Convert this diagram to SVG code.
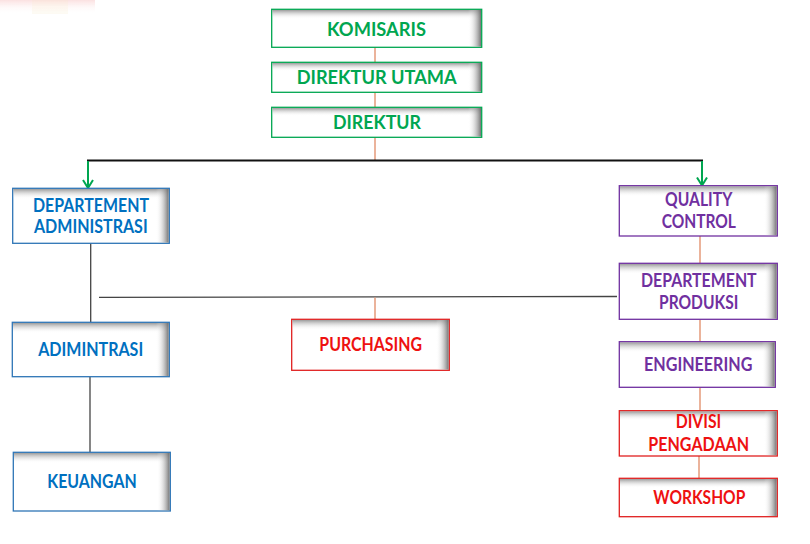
<svg xmlns="http://www.w3.org/2000/svg" width="810" height="544" viewBox="0 0 810 544">
<defs>
<linearGradient id="topShade" x1="0" y1="0" x2="0" y2="1">
<stop offset="0" stop-color="#7a7a7a" stop-opacity="0.75"/>
<stop offset="1" stop-color="#ffffff" stop-opacity="0"/>
</linearGradient>
<linearGradient id="rightShade" x1="0" y1="0" x2="1" y2="0">
<stop offset="0" stop-color="#ffffff" stop-opacity="0"/>
<stop offset="1" stop-color="#666666" stop-opacity="0.9"/>
</linearGradient>
<linearGradient id="wm" x1="0" y1="0" x2="0" y2="1">
<stop offset="0" stop-color="#f4a0a0" stop-opacity="0.45"/>
<stop offset="1" stop-color="#ffffff" stop-opacity="0"/>
</linearGradient>
<marker id="arr" viewBox="0 0 10 12" refX="9" refY="6" markerWidth="10" markerHeight="12" markerUnits="userSpaceOnUse" orient="auto">
<path d="M1,1 L9,6 L1,11" fill="none" stroke="#00a650" stroke-width="2"/>
</marker>
<filter id="ls" x="-5%" y="-100%" width="110%" height="400%">
<feGaussianBlur stdDeviation="1"/>
</filter>
</defs>
<style>
text{font-family:Lato,"Open Sans","Liberation Sans",sans-serif;font-weight:700;font-size:18px;text-anchor:middle}
.g text{fill:#00a650}.b text{fill:#0070c0}.p text{fill:#7030a0}.r text{fill:#ee1111}
.box{fill:#ffffff;stroke-width:1.3}
.g .box{stroke:#00a650}.b .box{stroke:#2e75b6}.p .box{stroke:#7030a0}.r .box{stroke:#e02020}
.or{stroke:#e59a7a;stroke-width:1.5;fill:none}
.dk{stroke:#444;stroke-width:1.3;fill:none}
</style>
<g id="watermark" opacity="0.7">
<rect x="0" y="0" width="95" height="14" fill="url(#wm)"/>
<rect x="32" y="0" width="36" height="14" fill="#f3e0b0" opacity="0.2"/>
</g>
<g id="connectors">
<line class="or" x1="375" y1="47" x2="375" y2="62"/>
<line class="or" x1="375" y1="92" x2="375" y2="107"/>
<line class="or" x1="375" y1="137" x2="375" y2="160"/>
<line x1="88" y1="162.5" x2="702" y2="162.5" stroke="#999" stroke-width="2" filter="url(#ls)"/>
<line x1="87" y1="160.5" x2="703" y2="160.5" stroke="#111" stroke-width="2"/>
<line x1="88" y1="161" x2="88" y2="188" stroke="#00a650" stroke-width="2" marker-end="url(#arr)"/>
<line x1="702" y1="161" x2="702" y2="185.5" stroke="#00a650" stroke-width="2" marker-end="url(#arr)"/>
<line class="dk" x1="90.7" y1="243" x2="90.7" y2="322"/>
<line class="dk" x1="90" y1="377" x2="90" y2="452"/>
<line class="dk" x1="99" y1="297.3" x2="617" y2="296.5"/>
<line class="or" x1="375" y1="297.5" x2="375" y2="319"/>
<line class="or" x1="700" y1="236" x2="700" y2="263"/>
<line class="or" x1="700" y1="319" x2="700" y2="341.5"/>
<line class="or" x1="700" y1="387.5" x2="700" y2="410.5"/>
<line class="or" x1="699" y1="456" x2="699" y2="478"/>
</g>
<g id="komisaris" class="g">
<rect class="box" x="271.7" y="9.3" width="210" height="38"/>
<rect x="272.4" y="10" width="208.6" height="9" fill="url(#topShade)"/>
<rect x="468" y="10" width="13" height="36.6" fill="url(#rightShade)"/>
<text x="376.5" y="36" textLength="99" lengthAdjust="spacingAndGlyphs">KOMISARIS</text>
</g>
<g id="direktur-utama" class="g">
<rect class="box" x="271.7" y="62.3" width="210" height="30"/>
<rect x="272.4" y="63" width="208.6" height="8" fill="url(#topShade)"/>
<rect x="468" y="63" width="13" height="28.6" fill="url(#rightShade)"/>
<text x="376.7" y="84" textLength="160" lengthAdjust="spacingAndGlyphs">DIREKTUR UTAMA</text>
</g>
<g id="direktur" class="g">
<rect class="box" x="271.7" y="107.3" width="210" height="30"/>
<rect x="272.4" y="108" width="208.6" height="8" fill="url(#topShade)"/>
<rect x="468" y="108" width="13" height="28.6" fill="url(#rightShade)"/>
<text x="377" y="129.3" textLength="88" lengthAdjust="spacingAndGlyphs">DIREKTUR</text>
</g>
<g id="dept-administrasi" class="b">
<rect class="box" x="12.7" y="188.3" width="156.6" height="55"/>
<rect x="13.4" y="189" width="155.2" height="10" fill="url(#topShade)"/>
<rect x="156" y="189" width="12.6" height="53.6" fill="url(#rightShade)"/>
<text x="91" y="211.7" textLength="116" lengthAdjust="spacingAndGlyphs">DEPARTEMENT</text>
<text x="90.8" y="233.3" textLength="113.7" lengthAdjust="spacingAndGlyphs">ADMINISTRASI</text>
</g>
<g id="adimintrasi" class="b">
<rect class="box" x="12.3" y="322.3" width="157" height="54.4"/>
<rect x="13" y="323" width="155.6" height="10" fill="url(#topShade)"/>
<rect x="156" y="323" width="12.6" height="53" fill="url(#rightShade)"/>
<text x="90.7" y="356" textLength="105" lengthAdjust="spacingAndGlyphs">ADIMINTRASI</text>
</g>
<g id="keuangan" class="b">
<rect class="box" x="13.3" y="452.3" width="157" height="58.7"/>
<rect x="14" y="453" width="155.6" height="10" fill="url(#topShade)"/>
<rect x="157" y="453" width="12.6" height="57.3" fill="url(#rightShade)"/>
<text x="92" y="487.7" textLength="89.4" lengthAdjust="spacingAndGlyphs">KEUANGAN</text>
</g>
<g id="purchasing" class="r">
<rect class="box" x="291.7" y="319.3" width="157.6" height="51"/>
<rect x="292.4" y="320" width="156.2" height="10" fill="url(#topShade)"/>
<rect x="436" y="320" width="12.6" height="49.6" fill="url(#rightShade)"/>
<text x="370.7" y="351" textLength="102.7" lengthAdjust="spacingAndGlyphs">PURCHASING</text>
</g>
<g id="quality-control" class="p">
<rect class="box" x="619.3" y="185.7" width="158" height="50.3"/>
<rect x="620" y="186.4" width="156.6" height="10" fill="url(#topShade)"/>
<rect x="764" y="186.4" width="12.6" height="48.9" fill="url(#rightShade)"/>
<text x="698.7" y="206" textLength="67.3" lengthAdjust="spacingAndGlyphs">QUALITY</text>
<text x="698.8" y="228.3" textLength="74.3" lengthAdjust="spacingAndGlyphs">CONTROL</text>
</g>
<g id="dept-produksi" class="p">
<rect class="box" x="619.3" y="263.3" width="158" height="56"/>
<rect x="620" y="264" width="156.6" height="10" fill="url(#topShade)"/>
<rect x="764" y="264" width="12.6" height="54.6" fill="url(#rightShade)"/>
<text x="698.8" y="286.7" textLength="115.7" lengthAdjust="spacingAndGlyphs">DEPARTEMENT</text>
<text x="698.7" y="309" textLength="79.3" lengthAdjust="spacingAndGlyphs">PRODUKSI</text>
</g>
<g id="engineering" class="p">
<rect class="box" x="619.3" y="341.7" width="156" height="45.6"/>
<rect x="620" y="342.4" width="154.6" height="10" fill="url(#topShade)"/>
<rect x="762" y="342.4" width="12.6" height="44.2" fill="url(#rightShade)"/>
<text x="698.2" y="370.7" textLength="108.3" lengthAdjust="spacingAndGlyphs">ENGINEERING</text>
</g>
<g id="divisi-pengadaan" class="r">
<rect class="box" x="619.3" y="410.7" width="158" height="45.3"/>
<rect x="620" y="411.4" width="156.6" height="9" fill="url(#topShade)"/>
<rect x="764" y="411.4" width="12.6" height="43.9" fill="url(#rightShade)"/>
<text x="698.5" y="428.3" textLength="45.6" lengthAdjust="spacingAndGlyphs">DIVISI</text>
<text x="698.7" y="450.7" textLength="100.7" lengthAdjust="spacingAndGlyphs">PENGADAAN</text>
</g>
<g id="workshop" class="r">
<rect class="box" x="619.3" y="478.3" width="158" height="38.4"/>
<rect x="620" y="479" width="156.6" height="9" fill="url(#topShade)"/>
<rect x="764" y="479" width="12.6" height="37" fill="url(#rightShade)"/>
<text x="699.3" y="504" textLength="92" lengthAdjust="spacingAndGlyphs">WORKSHOP</text>
</g>
</svg>
